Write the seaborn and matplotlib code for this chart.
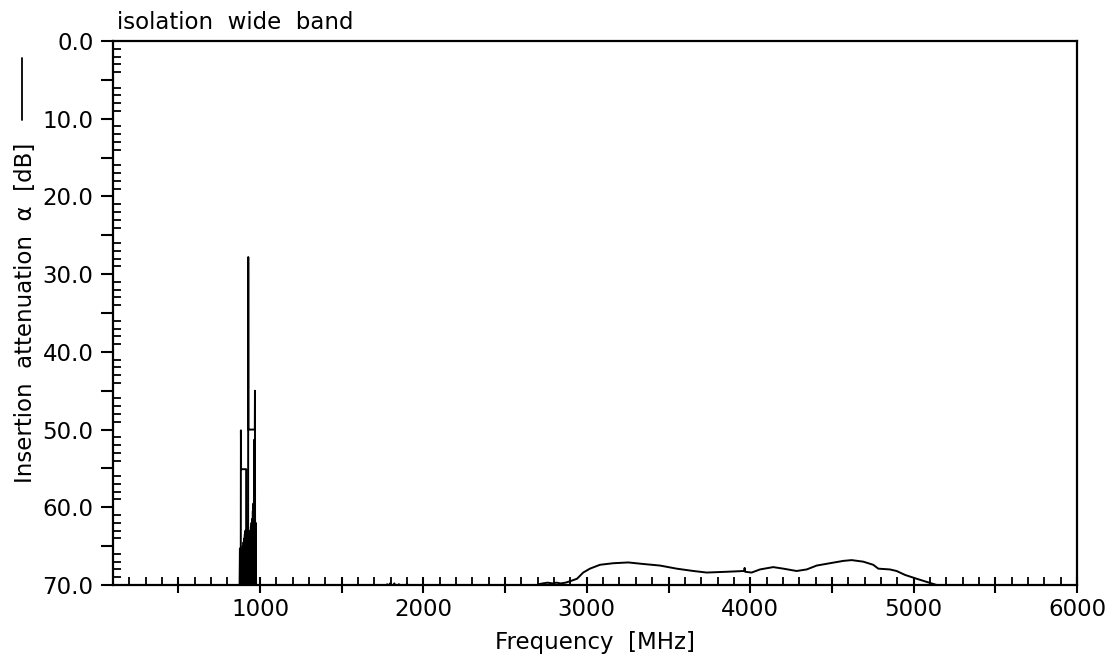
import matplotlib
matplotlib.use("Agg")
import matplotlib.pyplot as plt
import seaborn as sns
import pandas as pd
from matplotlib.ticker import MultipleLocator, FuncFormatter
from matplotlib.lines import Line2D

# Trace. Points deeper than 70 dB fall below the axis and are clipped.
# Leading stretch below the visible range
lead_freq = [100, 850]
lead_att = [72, 72]

# Spike cluster around 900 MHz (drawn in path order)
spike_freq = [860, 874, 877, 879, 882, 883, 884, 915, 915, 886, 887, 889, 891, 893, 895, 897,
              899, 901, 903, 905, 907, 909, 911, 913, 917, 919, 921, 923, 925, 927, 928, 929,
              968, 969, 970, 930, 932, 934, 936, 938, 940, 942, 944, 946, 948, 950, 952, 954,
              956, 958, 960, 962, 963, 965, 967, 969, 971, 973, 974, 977, 990]
spike_att = [73, 72, 65.3, 71, 70, 50.1, 55.1, 55.1, 72, 72, 66, 71, 65.5, 71, 65, 71,
             64.5, 71, 64, 71, 63.5, 71, 63, 71, 66, 71, 63.5, 71, 62, 70, 27.8, 50.0,
             50.0, 45.0, 72, 72, 64, 71, 63.5, 71, 63, 71, 62.5, 71, 62, 71, 61.5, 71,
             60.5, 70, 59.5, 70, 58.8, 51.3, 71, 58.5, 71, 62, 66, 72, 73]

# Small blips near 1800 MHz
blip_freq = [1000, 1770, 1778, 1786, 1795, 1810, 1822, 1835, 1850, 1865, 1900, 1925, 1935]
blip_att = [73, 72, 69.9, 70.3, 69.8, 70.2, 69.8, 70.4, 69.9, 70.3, 69.9, 70.4, 72]

# Wide band hump 2.7 - 5.2 GHz
band_freq = [2650, 2690, 2705, 2730, 2760, 2790, 2815, 2840, 2870, 2900, 2940, 2978, 3019,
             3081, 3162, 3254, 3346, 3448, 3550, 3652, 3734, 3856, 3963, 3966, 3969, 4009,
             4060, 4141, 4203, 4284, 4346, 4407, 4488, 4570, 4621, 4692, 4753, 4784, 4855,
             4896, 4947, 5019, 5080, 5141, 5180, 6000]
band_att = [72, 70.3, 69.9, 69.8, 69.7, 69.8, 69.7, 69.8, 69.7, 69.5, 69.2, 68.4, 67.9,
            67.4, 67.2, 67.1, 67.3, 67.5, 67.9, 68.2, 68.4, 68.3, 68.2, 67.8, 68.3, 68.4,
            68.0, 67.7, 67.9, 68.2, 68.0, 67.5, 67.2, 66.9, 66.8, 67.0, 67.4, 67.9, 68.0,
            68.2, 68.7, 69.2, 69.6, 70.0, 70.6, 72]

x_ticks = [1000, 2000, 3000, 4000, 5000, 6000]
y_ticks = [0, 10, 20, 30, 40, 50, 60, 70]

df = pd.DataFrame({
    "freq": lead_freq + spike_freq + blip_freq + band_freq,
    "att": lead_att + spike_att + blip_att + band_att,
})

sns.set_style("white")
plt.rcParams["font.family"] = ["DejaVu Sans"]
plt.rcParams["font.size"] = 16.5
plt.rcParams["text.color"] = "black"
plt.rcParams["axes.labelcolor"] = "black"
plt.rcParams["xtick.color"] = "black"
plt.rcParams["ytick.color"] = "black"

fig = plt.figure(figsize=(11.12, 6.55), dpi=100)
ax = fig.add_axes([0.1016, 0.1069, 0.8669, 0.8305])

sns.lineplot(data=df, x="freq", y="att", sort=False, estimator=None,
             color="black", linewidth=1.4, ax=ax)

ax.set_xlim(100, 6000)
ax.set_ylim(70, 0)

for s in ax.spines.values():
    s.set_linewidth(1.6)
    s.set_color("black")

# x ticks: 500 MHz marks crossing the axis, 100 MHz marks inside
ax.xaxis.set_major_locator(MultipleLocator(500))
ax.xaxis.set_minor_locator(MultipleLocator(100))
ax.xaxis.set_major_formatter(FuncFormatter(
    lambda v, p: f"{int(round(v))}" if int(round(v)) in x_ticks else ""))
ax.tick_params(axis="x", which="major", direction="inout", length=11, width=1.5,
               pad=4, labelsize=16.5, bottom=True, top=False)
ax.tick_params(axis="x", which="minor", direction="in", length=6, width=1.3,
               bottom=True, top=False)

# y ticks: 5 dB marks outside, 1 dB marks inside
ax.yaxis.set_major_locator(MultipleLocator(5))
ax.yaxis.set_minor_locator(MultipleLocator(1))
ax.yaxis.set_major_formatter(FuncFormatter(
    lambda v, p: f"{v:.1f}" if int(round(v)) in y_ticks else ""))
ax.tick_params(axis="y", which="major", direction="out", length=9, width=1.5,
               pad=5, labelsize=16.5, left=True, right=False)
ax.tick_params(axis="y", which="minor", direction="in", length=6, width=1.3,
               left=True, right=False)

ax.set_xlabel("Frequency  [MHz]", fontsize=16.5)
ax.xaxis.set_label_coords(0.5, -0.085)
ax.set_ylabel("Insertion  attenuation  \u03b1  [dB]", fontsize=16.5)
ax.yaxis.set_label_coords(-0.079, 0.5)

ax.text(0.004, 1.012, "isolation  wide  band", transform=ax.transAxes,
        ha="left", va="bottom", fontsize=16.5)

# line sample beside the y label
fig.add_artist(Line2D([22 / 1112, 22 / 1112], [1 - 58 / 655, 1 - 120 / 655],
                      color="black", linewidth=1.3, transform=fig.transFigure))

fig.savefig("out.png", dpi=100)
